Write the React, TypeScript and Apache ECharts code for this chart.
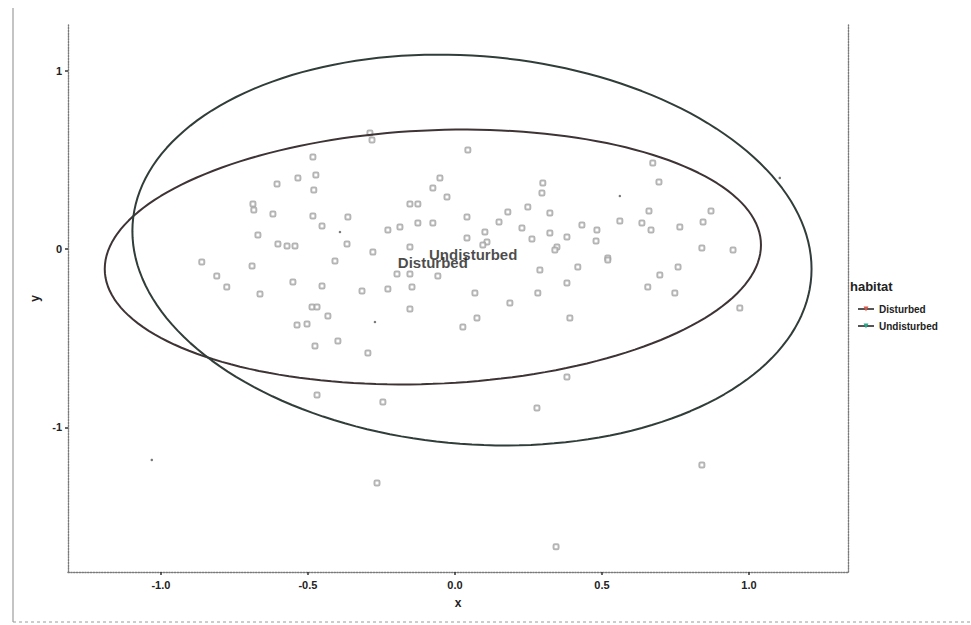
import React, { useEffect, useRef } from "react";
import * as echarts from "echarts";

// habitat groups
const groups = ["Disturbed", "Undisturbed"];
// ellipse parameters: [centerX, centerY, halfWidth, halfHeight, yOffsetAtRightmost]
const ellipseDisturbed = [-0.075, -0.045, 1.116, 0.714, 0.067];
const ellipseUndisturbed = [0.058, -0.006, 1.155, 1.095, -0.106];
// group centroid labels [x, y]
const labelDisturbed = [-0.075, -0.075];
const labelUndisturbed = [0.062, -0.03];

// site points (hollow glyphs)
const pointsX = [
  -0.483, -0.534, -0.473, -0.605, -0.48, -0.687, -0.684, -0.619, -0.483, -0.452, -0.364, -0.67, -0.602, -0.571,
  -0.544, -0.367, -0.279, -0.289, -0.282, 0.044, -0.051, -0.075, -0.027, -0.153, -0.126, 0.041, 0.18, 0.248,
  0.299, 0.296, 0.323, -0.228, -0.187, -0.126, -0.075, 0.15, 0.102, 0.228, 0.041, 0.109, 0.262, 0.323, 0.347,
  0.381, -0.153, 0.673, 0.694, 0.66, 0.561, 0.636, 0.667, 0.765, 0.844, 0.871, 0.432, 0.483, 0.48, 0.84, 0.946,
  0.52, -0.861, -0.69, -0.81, -0.776, -0.663, -0.551, -0.452, -0.408, -0.316, -0.228, -0.197, -0.153, -0.146,
  -0.153, -0.486, -0.469, -0.432, -0.503, -0.537, -0.476, -0.398, -0.296, -0.469, -0.245, 0.068, 0.075, 0.027,
  -0.058, 0.289, 0.418, 0.52, 0.759, 0.697, 0.656, 0.748, 0.381, 0.282, 0.187, 0.391, 0.969, 0.381, 0.279, 0.34,
  -0.265, 0.344, 0.84, 0.095,
];
const pointsY = [
  0.515, 0.398, 0.415, 0.364, 0.331, 0.252, 0.218, 0.196, 0.185, 0.129, 0.179, 0.078, 0.028, 0.017,
  0.017, 0.028, -0.017, 0.65, 0.611, 0.555, 0.398, 0.342, 0.291, 0.252, 0.252, 0.179, 0.207, 0.235,
  0.37, 0.314, 0.202, 0.106, 0.123, 0.146, 0.146, 0.151, 0.095, 0.118, 0.062, 0.039, 0.056, 0.09, 0.011,
  0.067, 0.011, 0.482, 0.375, 0.213, 0.157, 0.146, 0.106, 0.123, 0.151, 0.213, 0.134, 0.106, 0.045, 0.006, -0.006,
  -0.05, -0.073, -0.095, -0.151, -0.213, -0.252, -0.185, -0.207, -0.067, -0.235, -0.224, -0.14, -0.14, -0.213,
  -0.336, -0.325, -0.325, -0.375, -0.42, -0.426, -0.543, -0.515, -0.583, -0.818, -0.857, -0.246, -0.387, -0.437,
  -0.151, -0.118, -0.101, -0.062, -0.101, -0.146, -0.213, -0.246, -0.19, -0.246, -0.303, -0.387, -0.331, -0.717, -0.891, -0.006,
  -1.311, -1.669, -1.21, 0.022,
];
// tiny filled dots
const dotsX = [-0.391, 0.561, 1.105, -0.272, -1.031];
const dotsY = [0.095, 0.297, 0.398, -0.409, -1.182];

const xTicks = [-1.0, -0.5, 0.0, 0.5, 1.0];
const yTicks = [-1, 0, 1];

function ellipsePoints(p: number[]) {
  const [cx, cy, w, h, k] = p;
  const s = Math.sqrt(h * h - k * k);
  const pts: number[][] = [];
  const n = 180;
  for (let i = 0; i <= n; i++) {
    const t = (i / n) * Math.PI * 2;
    pts.push([cx + w * Math.cos(t), cy + k * Math.cos(t) + s * Math.sin(t)]);
  }
  return pts;
}

export default function App() {
  const ref = useRef<HTMLDivElement>(null);
  useEffect(() => {
    if (!ref.current) return;
    const chart = echarts.init(ref.current, null, { renderer: "svg" });
    const font = "'Liberation Sans', Arial, sans-serif";
    const axisDot = { color: "#7a7a7a", width: 1.4, type: "dotted" as const };
    chart.setOption({
      animation: false,
      backgroundColor: "#ffffff",
      textStyle: { fontFamily: font },
      grid: { left: 68, right: 123, top: 25, bottom: 53, containLabel: false },
      xAxis: {
        type: "value",
        min: -1.316,
        max: 1.337,
        name: "x",
        nameLocation: "middle",
        nameGap: 25,
        nameTextStyle: { fontSize: 12, fontWeight: "bold", color: "#222" },
        axisLine: { show: true, onZero: false, lineStyle: axisDot },
        axisTick: { show: true, length: 3, customValues: xTicks, lineStyle: { color: "#333", width: 1.5 } },
        axisLabel: {
          customValues: xTicks,
          fontSize: 11,
          fontWeight: "bold",
          color: "#222",
          margin: 7,
          formatter: (v: number) => v.toFixed(1),
        },
        splitLine: { show: false },
      },
      yAxis: [
        {
          type: "value",
          min: -1.81,
          max: 1.255,
          name: "y",
          nameLocation: "middle",
          nameGap: 16,
          nameTextStyle: { fontSize: 12, fontWeight: "bold", color: "#222" },
          axisLine: { show: true, onZero: false, lineStyle: axisDot },
          axisTick: { show: true, length: 3, customValues: yTicks, lineStyle: { color: "#333", width: 1.5 } },
          axisLabel: { customValues: yTicks, fontSize: 11, fontWeight: "bold", color: "#222", margin: 6 },
          splitLine: { show: false },
        },
        {
          type: "value",
          position: "right",
          min: -1.81,
          max: 1.255,
          axisLine: { show: true, onZero: false, lineStyle: axisDot },
          axisTick: { show: false },
          axisLabel: { show: false },
          splitLine: { show: false },
        },
      ],
      legend: {
        orient: "vertical",
        left: 852,
        top: 299,
        itemGap: 7,
        itemWidth: 16,
        itemHeight: 6,
        textStyle: { fontSize: 10, fontWeight: "bold", color: "#222", fontFamily: font },
        data: [
          { name: groups[0], itemStyle: { color: "#d9574a" }, lineStyle: { color: "#555" } },
          { name: groups[1], itemStyle: { color: "#26a98c" }, lineStyle: { color: "#555" } },
        ],
      },
      graphic: [
        { type: "text", left: 850, top: 280, style: { text: "habitat", font: `bold 13px ${font}`, fill: "#222" } },
        { type: "line", shape: { x1: 13, y1: 8, x2: 13, y2: 622 }, style: { stroke: "#c4c4c4", lineWidth: 2 } },
        {
          type: "line",
          shape: { x1: 13, y1: 622, x2: 971, y2: 622 },
          style: { stroke: "#9a9a9a", lineWidth: 1, lineDash: [3, 3] },
        },
      ],
      series: [
        {
          type: "scatter",
          name: "points",
          symbol: "emptyRoundRect",
          symbolSize: 5,
          itemStyle: { color: "#a3a3a3", borderWidth: 0.9 },
          data: pointsX.map((x, i) => [x, pointsY[i]]),
          z: 2,
        },
        {
          type: "scatter",
          name: "dots",
          symbol: "circle",
          symbolSize: 2.5,
          itemStyle: { color: "#555" },
          data: dotsX.map((x, i) => [x, dotsY[i]]),
          z: 2,
        },
        {
          type: "line",
          name: groups[0],
          data: ellipsePoints(ellipseDisturbed),
          symbol: "triangle",
          symbolRotate: 180,
          symbolSize: 5,
          showSymbol: false,
          itemStyle: { color: "#d9574a" },
          lineStyle: { color: "#3e3335", width: 2 },
          z: 3,
        },
        {
          type: "line",
          name: groups[1],
          data: ellipsePoints(ellipseUndisturbed),
          symbol: "triangle",
          symbolRotate: 180,
          symbolSize: 5,
          showSymbol: false,
          itemStyle: { color: "#26a98c" },
          lineStyle: { color: "#313d3a", width: 2 },
          z: 3,
        },
        {
          type: "scatter",
          name: "labels",
          symbolSize: 0,
          silent: true,
          z: 5,
          label: {
            show: true,
            position: "inside",
            formatter: "{b}",
            fontSize: 15,
            fontWeight: "bold",
            color: "#1b1b1b",
            fontFamily: font,
          },
          data: [
            { name: groups[0], value: labelDisturbed },
            { name: groups[1], value: labelUndisturbed },
          ],
        },
      ],
    });
    return () => chart.dispose();
  }, []);
  return <div ref={ref} style={{ position: "fixed", left: 0, top: 0, width: 971, height: 625 }} />;
}
